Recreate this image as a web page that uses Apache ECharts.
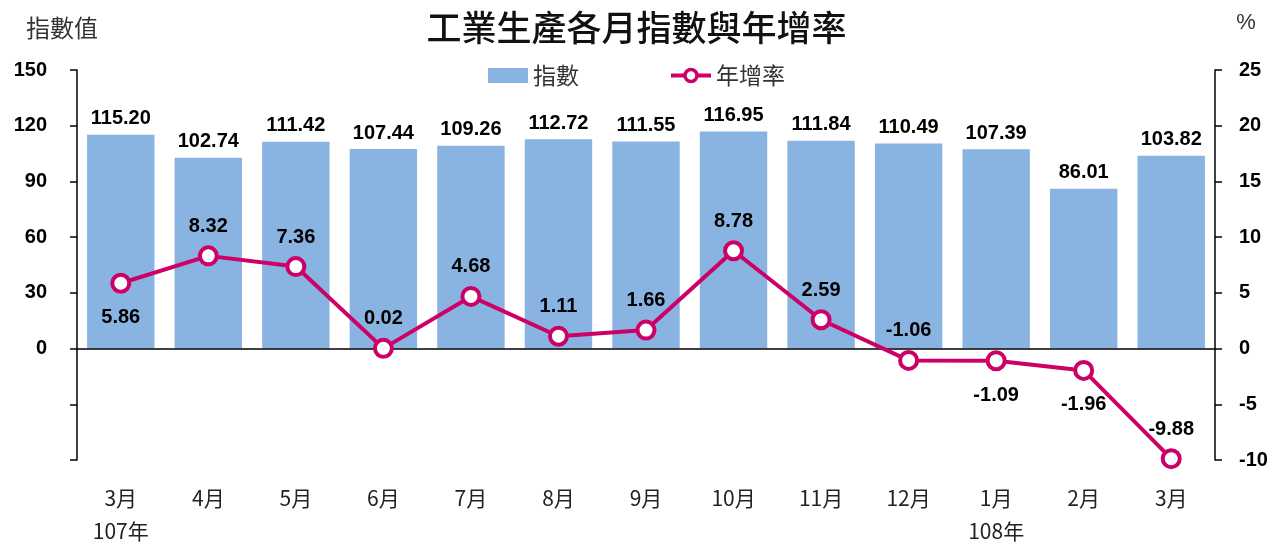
<!DOCTYPE html>
<html>
<head>
<meta charset="utf-8">
<script src="https://cdn.jsdelivr.net/npm/echarts@6/dist/echarts.min.js"></script>
<style>
  html, body { margin: 0; padding: 0; background: #fff; }
  #chart { width: 1273px; height: 544px; }
</style>
</head>
<body>
<div id="chart"></div>
<script>
const months = ["3月", "4月", "5月", "6月", "7月", "8月", "9月", "10月", "11月", "12月", "1月", "2月", "3月"];
const years = ["107年", "", "", "", "", "", "", "", "", "", "108年", "", ""];
const indexValues = [115.20, 102.74, 111.42, 107.44, 109.26, 112.72, 111.55, 116.95, 111.84, 110.49, 107.39, 86.01, 103.82];
const growthRates = [5.86, 8.32, 7.36, 0.02, 4.68, 1.11, 1.66, 8.78, 2.59, -1.06, -1.09, -1.96, -9.88];

const numFont = "Liberation Sans";
const cjkFont = "Noto Sans CJK TC";

// which line labels sit under the point
const below = [0, 10, 11];

const chart = echarts.init(document.getElementById("chart"));

const option = {
  animation: false,
  title: {
    text: "工業生產各月指數與年增率",
    left: "center",
    top: 5,
    textStyle: {
      fontFamily: cjkFont,
      fontSize: 35,
      fontWeight: 500,
      color: "#111",
    },
  },
  legend: {
    top: 59,
    left: "center",
    itemGap: 90,
    itemWidth: 40,
    itemHeight: 15,
    textStyle: { fontFamily: cjkFont, fontSize: 23, color: "#333" },
    data: [
      { name: "指數", icon: "rect" },
      {
        name: "年增率",
        lineStyle: { width: 4 },
        itemStyle: { borderWidth: 3.5 },
      },
    ],
  },
  grid: {
    left: 77,
    right: 58,
    top: 70,
    bottom: 84,
  },
  xAxis: {
    type: "category",
    data: months,
    axisLine: { show: false, onZero: false },
    axisTick: { show: false },
    axisLabel: {
      margin: 22,
      interval: 0,
      formatter: (v, i) => "{m|" + v + "}\n{y|" + (years[i] || " ") + "}",
      rich: {
        m: { fontFamily: cjkFont, fontSize: 21, color: "#222", lineHeight: 33 },
        y: { fontFamily: cjkFont, fontSize: 21, color: "#222", lineHeight: 33 },
      },
    },
  },
  yAxis: [
    {
      type: "value",
      min: -60,
      max: 150,
      interval: 30,
      name: "指數值",
      nameLocation: "end",
      nameGap: 30,
      nameTextStyle: { fontFamily: cjkFont, fontSize: 24, color: "#333", align: "center", padding: [0, 30, 0, 0] },
      splitLine: { show: false },
      axisLine: { show: true, lineStyle: { color: "#000", width: 1.5 } },
      axisTick: { show: true, length: 7, lineStyle: { color: "#000", width: 1.5 } },
      axisLabel: {
        margin: 30,
        fontFamily: numFont,
        fontSize: 20,
        fontWeight: "bold",
        color: "#000",
        formatter: (v) => (v < 0 ? "" : v),
      },
    },
    {
      type: "value",
      min: -10,
      max: 25,
      interval: 5,
      name: "%",
      nameLocation: "end",
      nameGap: 36,
      nameTextStyle: { fontFamily: numFont, fontSize: 22, color: "#333", padding: [0, 0, 0, 62] },
      splitLine: { show: false },
      axisLine: { show: true, lineStyle: { color: "#000", width: 1.5 } },
      axisTick: { show: true, length: 7, lineStyle: { color: "#000", width: 1.5 } },
      axisLabel: {
        margin: 24,
        fontFamily: numFont,
        fontSize: 20,
        fontWeight: "bold",
        color: "#000",
      },
    },
  ],
  series: [
    {
      name: "指數",
      type: "bar",
      data: indexValues,
      barCategoryGap: "23%",
      itemStyle: { color: "#89B3E0" },
      label: {
        show: true,
        position: "top",
        distance: 6,
        fontFamily: numFont,
        fontSize: 20,
        fontWeight: "bold",
        color: "#000",
        formatter: (p) => p.value.toFixed(2),
      },
      markLine: {
        silent: true,
        symbol: "none",
        label: { show: false },
        lineStyle: { color: "#000", width: 1.5, type: "solid" },
        data: [{ yAxis: 0 }],
      },
    },
    {
      name: "年增率",
      type: "line",
      yAxisIndex: 1,
      data: growthRates.map((v, i) => ({
        value: v,
        label: below.includes(i) ? { position: "bottom", distance: 14 } : { position: "top", distance: 9 },
      })),
      symbol: "circle",
      symbolSize: 17,
      lineStyle: { color: "#CC0066", width: 4 },
      itemStyle: { color: "#fff", borderColor: "#CC0066", borderWidth: 4 },
      label: {
        show: true,
        fontFamily: numFont,
        fontSize: 20,
        fontWeight: "bold",
        color: "#000",
        formatter: (p) => p.value.toFixed(2),
      },
      z: 5,
    },
  ],
};

chart.setOption(option);
window.addEventListener("resize", () => {
  chart.resize();
});
</script>
</body>
</html>
